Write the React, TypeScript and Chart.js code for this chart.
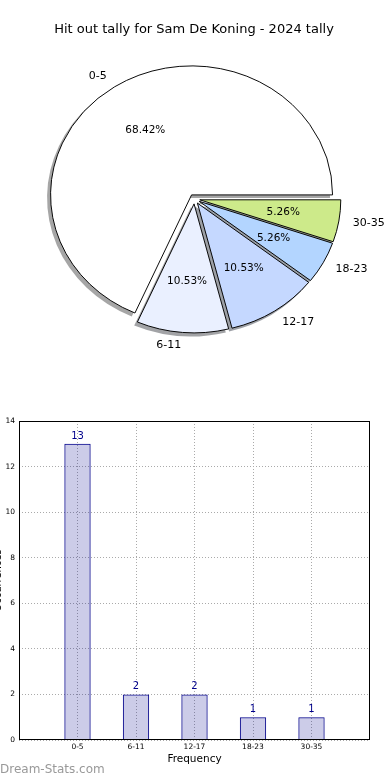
import React, { useEffect, useRef } from 'react';
import { Chart, registerables } from 'chart.js';

Chart.register(...registerables);

// ---------- data ----------
const TITLE = 'Hit out tally for Sam De Koning - 2024 tally';
const categories = ['0-5', '6-11', '12-17', '18-23', '30-35'];
const counts = [13, 2, 2, 1, 1];
const pieColors = ['#FFFFFF', '#EAF0FF', '#C5D8FF', '#B3D5FF', '#CDEA8A'];
const yTicks = [0, 2, 4, 6, 8, 10, 12, 14];
const X_LABEL = 'Frequency';
const Y_LABEL = 'Occurrences';
const WATERMARK = 'Dream-Stats.com';

// ---------- style ----------
const FONT = '"DejaVu Sans", "Liberation Sans", sans-serif';
const RX = 141;
const RY = 129;
const EXPLODE = 0.038;
const SHADOW = 3;
const BAR_EDGE = '#00008B';

function shadowColor(hex: string): string {
  const h = hex.replace('#', '');
  const r = parseInt(h.slice(0, 2), 16);
  const g = parseInt(h.slice(2, 4), 16);
  const b = parseInt(h.slice(4, 6), 16);
  return `rgba(${Math.round(r * 0.3)},${Math.round(g * 0.3)},${Math.round(b * 0.3)},0.5)`;
}

const piePlugin = {
  id: 'explodedEllipsePie',
  beforeDatasetsDraw(chart: any) {
    const ctx = chart.ctx;
    const arcs = chart.getDatasetMeta(0).data;
    const sy = RY / RX;
    const drawAt = (arc: any, ox: number, oy: number, fn: () => void) => {
      const mid = (arc.startAngle + arc.endAngle) / 2;
      const d = EXPLODE * arc.outerRadius;
      ctx.save();
      ctx.translate(ox, oy);
      ctx.translate(arc.x, arc.y);
      ctx.scale(1, sy);
      ctx.translate(-arc.x, -arc.y);
      ctx.translate(Math.cos(mid) * d, Math.sin(mid) * d);
      fn();
      ctx.restore();
    };
    arcs.forEach((arc: any) =>
      drawAt(arc, -SHADOW, SHADOW, () => {
        ctx.beginPath();
        ctx.moveTo(arc.x, arc.y);
        ctx.arc(arc.x, arc.y, arc.outerRadius + 0.5, arc.startAngle, arc.endAngle);
        ctx.closePath();
        ctx.fillStyle = shadowColor(arc.options.backgroundColor);
        ctx.fill();
      })
    );
    arcs.forEach((arc: any) => drawAt(arc, 0, 0, () => arc.draw(ctx)));
    return false;
  },
  afterDraw(chart: any) {
    const ctx = chart.ctx;
    const arcs = chart.getDatasetMeta(0).data;
    const labels = chart.data.labels as string[];
    const values = chart.data.datasets[0].data as number[];
    const total = values.reduce((a, b) => a + b, 0);
    const sy = RY / RX;
    ctx.save();
    ctx.fillStyle = '#000';
    ctx.textBaseline = 'middle';
    arcs.forEach((arc: any, i: number) => {
      const mid = (arc.startAngle + arc.endAngle) / 2;
      const c = Math.cos(mid);
      const s = Math.sin(mid);
      const R = arc.outerRadius;
      const ex = arc.x + c * EXPLODE * R;
      const ey = arc.y + s * EXPLODE * R * sy;
      ctx.font = `11px ${FONT}`;
      ctx.textAlign = c > 0 ? 'left' : 'right';
      ctx.fillText(labels[i], ex + 1.1 * R * c, ey + 1.1 * R * s * sy);
      ctx.font = `10.5px ${FONT}`;
      ctx.textAlign = 'center';
      ctx.fillText(((values[i] / total) * 100).toFixed(2) + '%', ex + 0.6 * R * c, ey + 0.6 * R * s * sy);
    });
    ctx.font = `13px ${FONT}`;
    ctx.textAlign = 'center';
    ctx.fillText(TITLE, 194, 30);
    ctx.restore();
  },
};

const barPlugin = {
  id: 'barDecor',
  afterDatasetsDraw(chart: any) {
    const ctx = chart.ctx;
    const { left, right, top, bottom } = chart.chartArea;
    ctx.save();
    // frame
    ctx.strokeStyle = '#000';
    ctx.lineWidth = 1;
    ctx.strokeRect(left + 0.5, top + 0.5, right - left - 1, bottom - top - 1);
    // value labels
    const bars = chart.getDatasetMeta(0).data;
    const vals = chart.data.datasets[0].data as any[];
    ctx.fillStyle = BAR_EDGE;
    ctx.font = `10px ${FONT}`;
    ctx.textAlign = 'center';
    ctx.textBaseline = 'alphabetic';
    bars.forEach((b: any, i: number) => {
      ctx.fillText(String(vals[i].y), b.x, b.y - 5);
    });
    // axis titles
    ctx.fillStyle = '#000';
    ctx.font = `10.5px ${FONT}`;
    ctx.textBaseline = 'middle';
    ctx.fillText(X_LABEL, (left + right) / 2, 359);
    ctx.save();
    ctx.translate(-2, (top + bottom) / 2);
    ctx.rotate(-Math.PI / 2);
    ctx.font = `10px ${FONT}`;
    ctx.fillText(Y_LABEL, 0, 0);
    ctx.restore();
    // watermark
    ctx.fillStyle = '#999999';
    ctx.font = `12px ${FONT}`;
    ctx.textAlign = 'left';
    ctx.fillText(WATERMARK, 0, 370);
    ctx.restore();
  },
};

export default function App() {
  const pieRef = useRef<HTMLCanvasElement>(null);
  const barRef = useRef<HTMLCanvasElement>(null);

  useEffect(() => {
    const revLabels = [...categories].reverse();
    const revCounts = [...counts].reverse();
    const revColors = [...pieColors].reverse();
    const pie = new Chart(pieRef.current as HTMLCanvasElement, {
      type: 'pie',
      data: {
        labels: revLabels,
        datasets: [
          {
            data: revCounts,
            backgroundColor: revColors,
            borderColor: '#000',
            borderWidth: 1,
            borderJoinStyle: 'miter',
            radius: RX,
          } as any,
        ],
      },
      options: {
        animation: false,
        responsive: false,
        maintainAspectRatio: false,
        events: [],
        rotation: 90,
        layout: { padding: { left: 0, right: 1, top: 0, bottom: 2 } },
        plugins: { legend: { display: false }, tooltip: { enabled: false } },
      } as any,
      plugins: [piePlugin],
    });

    const tickFont = { family: FONT, size: 7.5 };
    const bar = new Chart(barRef.current as HTMLCanvasElement, {
      type: 'bar',
      data: {
        datasets: [
          {
            data: categories.map((_, i) => ({ x: i, y: counts[i] })),
            backgroundColor: 'rgba(0,0,139,0.2)',
            borderColor: BAR_EDGE,
            borderWidth: 1,
            barPercentage: 0.45,
            categoryPercentage: 1,
          } as any,
        ],
      },
      options: {
        animation: false,
        responsive: false,
        maintainAspectRatio: false,
        events: [],
        layout: { padding: { left: 0, right: 20, top: 21, bottom: 0 } },
        plugins: { legend: { display: false }, tooltip: { enabled: false } },
        scales: {
          x: {
            type: 'linear',
            offset: false,
            min: -1,
            max: 5,
            afterBuildTicks: (s: any) => {
              s.ticks = categories.map((_, i) => ({ value: i }));
            },
            afterFit: (s: any) => {
              s.height = 40;
            },
            ticks: {
              callback: (v: any) => categories[v] ?? '',
              font: tickFont,
              color: '#000',
              padding: 3,
              autoSkip: false,
              maxRotation: 0,
            },
            grid: { drawTicks: false, offset: false, color: '#aaaaaa', lineWidth: 1 },
            border: { display: false, dash: [1, 2] },
          },
          y: {
            min: 0,
            max: 14,
            afterBuildTicks: (s: any) => {
              s.ticks = yTicks.map((v) => ({ value: v }));
            },
            afterFit: (s: any) => {
              s.width = 19;
            },
            ticks: { font: tickFont, color: '#000', padding: 4 },
            grid: { drawTicks: false, color: '#aaaaaa', lineWidth: 1 },
            border: { display: false, dash: [1, 2] },
          },
        },
      } as any,
      plugins: [barPlugin],
    });

    return () => {
      pie.destroy();
      bar.destroy();
    };
  }, []);

  return (
    <div style={{ position: 'absolute', left: 0, top: 0, width: 390, height: 780, background: '#fff' }}>
      <canvas
        ref={pieRef}
        width={390}
        height={400}
        style={{ position: 'absolute', left: 0, top: 0, width: 390, height: 400 }}
      />
      <canvas
        ref={barRef}
        width={390}
        height={380}
        style={{ position: 'absolute', left: 0, top: 400, width: 390, height: 380 }}
      />
    </div>
  );
}
